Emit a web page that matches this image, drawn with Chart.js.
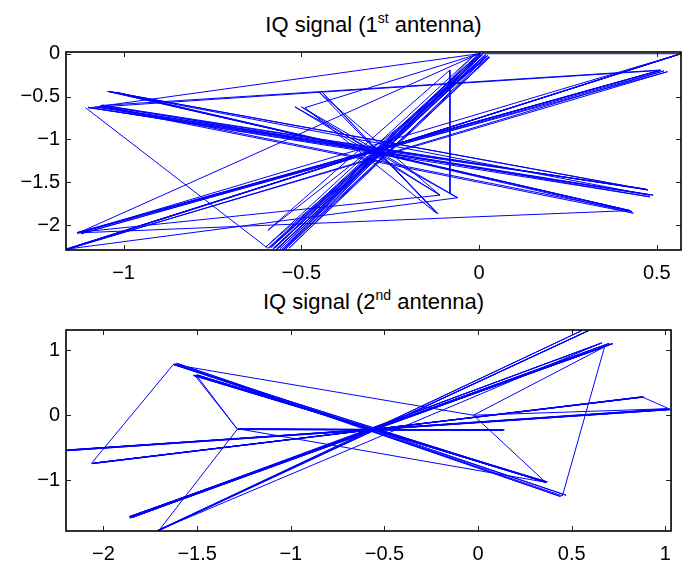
<!DOCTYPE html>
<html>
<head>
<meta charset="utf-8">
<script src="https://cdn.jsdelivr.net/npm/chart.js@4.4.1/dist/chart.umd.min.js"></script>
<style>
  html, body { margin: 0; padding: 0; background: #fff; }
  body { width: 682px; height: 566px; position: relative; overflow: hidden;
         font-family: 'Liberation Sans', Arial, Helvetica, sans-serif; }
  .title { position: absolute; left: 66px; width: 615px; text-align: center;
           font-size: 22px; line-height: 26px; color: #000; white-space: nowrap; }
  .title sup { font-size: 14px; line-height: 0; position: relative; top: -1px; }
  canvas { position: absolute; left: 0; }
</style>
</head>
<body>
<div class="title" style="top:12px">IQ signal (1<sup>st</sup> antenna)</div>
<div class="title" style="top:289px">IQ signal (2<sup>nd</sup> antenna)</div>
<canvas id="iq1" width="682" height="290" style="top:0"></canvas>
<canvas id="iq2" width="682" height="276" style="top:290px"></canvas>

<script>
// ============================================================
// IQ trajectories, two antennas
// ============================================================

// ── Antenna 1: in-phase / quadrature samples ────────────────
const ant1I = [-1.107, -0.594, 0.000, -0.580, 0.020, -0.570, 0.010, -0.565, 0.005, -0.555,
               0.015, -0.585, 0.000, -0.575, 0.010, -0.560, 0.020, -0.590, 0.005, -0.545,
               0.030, -0.535, 0.025, -0.600, -0.010, -0.550, 0.028, -0.594,
               -0.082, -0.082, -0.061, -0.518, -0.110, -0.450, -0.115, -0.440, -0.120, -0.490,
               0.000, 0.568, -1.162, 0.565, -1.155, 0.530, -1.130, 0.510, -1.120, 0.520,
               -1.160, 0.568, -1.130, 0.000, -1.060, 0.473, -1.040, 0.425, -1.020, 0.434,
               -1.070, 0.490, -1.100, 0.480, -1.060, 0.475, -1.035, 0.430, -1.065, 0.510,
               -1.125, 0.425, -1.045, 0.480, -1.080, 0.470, -1.100, -0.450, 0.510, -1.130,
               -0.110, -0.500, -0.060, -1.160, 0.566];
const ant1Q = [-0.630, -2.270, 0.000, -2.275, -0.030, -2.280, -0.010, -2.270, 0.000, -2.285,
               -0.020, -2.260, -0.005, -2.270, -0.005, -2.275, -0.010, -2.265, -0.015, -2.280,
               -0.040, -2.270, -0.020, -2.255, 0.000, -2.285, -0.035, -2.060,
               -0.190, -1.630, -1.680, -0.620, -1.650, -0.450, -1.870, -0.455, -1.860, -0.630,
               0.000, 0.000, -2.280, -0.005, -2.275, -0.210, -2.090, -0.195, -2.100, -0.200,
               -2.285, 0.000, -2.095, 0.000, -0.610, -1.587, -0.440, -1.830, -0.450, -1.860,
               -0.615, -1.650, -0.625, -1.670, -0.600, -1.590, -0.445, -1.840, -0.605, -0.190,
               -2.090, -1.830, -0.440, -1.650, -0.620, -1.580, -0.630, -0.450, -0.195, -2.085,
               -1.650, -0.620, -1.680, -2.280, 0.000];

// ── Antenna 2: in-phase / quadrature samples ────────────────
const ant2I = [-1.627, -2.064, 0.886, -2.050, 0.870, -2.060, 0.880, -2.055, 0.875, 1.026,
               -2.200, 1.020, -2.200, 1.026, -2.190, 1.020, -2.200, 1.010, -0.025, 0.360,
               -1.513, 0.365, -1.500, 0.370, -1.520, 0.355, -1.505, -1.285, 0.133, -1.280,
               0.140, -1.280, 0.130, -1.285, 0.135, -1.275, 0.360, -1.627, 0.470, -1.610,
               0.440, -1.620, 0.450, 0.675, -1.863, 0.720, -1.850, 0.700, -1.855, 0.660,
               -1.845, 0.715, -1.860, 0.658, -1.709, 0.588, -1.700, 0.553, -1.710, 0.590,
               -1.705, -1.285, -1.513, 0.360, -1.627, -0.025, 0.675, -1.860, 0.700];
const ant2Q = [0.780, -0.740, 0.280, -0.735, 0.275, -0.745, 0.285, -0.738, 0.282, 0.090,
               -0.540, 0.095, -0.535, 0.085, -0.545, 0.090, -0.540, 0.100, 0.000, -1.030,
               0.615, -1.035, 0.620, -1.025, 0.610, -1.020, 0.618, -0.215, -0.230, -0.210,
               -0.225, -0.215, -0.235, -0.220, -0.228, -0.212, -1.030, 0.780, -1.230, 0.800,
               -1.250, 0.790, -1.240, 1.050, -1.560, 1.100, -1.575, 1.105, -1.565, 1.110,
               -1.570, 1.100, -1.580, 1.110, -1.770, 1.300, -1.765, 1.300, -1.770, 1.300,
               -1.775, -0.215, 0.615, -1.030, 0.780, 0.000, 1.050, -1.560, 1.100];

// ── Axis ranges and tick labels ──────────────────────────────
const ant1XRange = [-1.162, 0.568];
const ant1YRange = [-2.29, 0.02];
const ant1XTicks = [-1, -0.5, 0, 0.5];
const ant1YTicks = [0, -0.5, -1, -1.5, -2];

const ant2XRange = [-2.2, 1.03];
const ant2YRange = [-1.78, 1.31];
const ant2XTicks = [-2, -1.5, -1, -0.5, 0, 0.5, 1];
const ant2YTicks = [1, 0, -1];

const TICK_FONT = { family: "'Liberation Sans', Arial, Helvetica, sans-serif", size: 20 };

// MATLAB-style minus sign
const fmt = v => (v < 0 ? '\u2212' : '') + Math.abs(v);

// ── Plugin: box + inward tick marks on all four sides ────────
const matlabBox = {
  id: 'matlabBox',
  afterDatasetsDraw(chart) {
    const { ctx, chartArea: a, scales: { x, y } } = chart;
    const len = 5;
    ctx.save();
    ctx.strokeStyle = '#222';
    ctx.lineWidth = 1;
    ctx.beginPath();
    x.ticks.forEach(t => {
      const px = Math.round(x.getPixelForValue(t.value)) + 0.5;
      ctx.moveTo(px, a.bottom); ctx.lineTo(px, a.bottom - len);
      ctx.moveTo(px, a.top);    ctx.lineTo(px, a.top + len);
    });
    y.ticks.forEach(t => {
      const py = Math.round(y.getPixelForValue(t.value)) + 0.5;
      ctx.moveTo(a.left, py);  ctx.lineTo(a.left + len, py);
      ctx.moveTo(a.right, py); ctx.lineTo(a.right - len, py);
    });
    ctx.stroke();
    ctx.strokeStyle = '#000';
    ctx.lineWidth = 1.6;
    ctx.strokeRect(a.left, a.top, a.right - a.left, a.bottom - a.top);
    ctx.restore();
  }
};

function makeIQChart(id, iVals, qVals, xr, yr, xt, yt, pad, xH) {
  const pts = iVals.map((v, k) => ({ x: v, y: qVals[k] }));
  const ctx = document.getElementById(id).getContext('2d');
  return new Chart(ctx, {
    type: 'scatter',
    data: {
      datasets: [{
        data: pts,
        showLine: true,
        borderColor: '#0000ff',
        borderWidth: 1,
        pointRadius: 0,
        tension: 0,
        fill: false
      }]
    },
    options: {
      responsive: false,
      animation: false,
      layout: { padding: pad },
      plugins: { legend: { display: false }, tooltip: { enabled: false } },
      scales: {
        x: {
          type: 'linear', min: xr[0], max: xr[1],
          grid: { display: false, drawTicks: false },
          border: { display: false },
          afterBuildTicks: s => { s.ticks = xt.map(v => ({ value: v })); },
          afterFit: s => { s.height = xH; },
          ticks: { font: TICK_FONT, color: '#000', padding: 11, autoSkip: false, maxRotation: 0,
                   callback: fmt }
        },
        y: {
          type: 'linear', min: yr[0], max: yr[1],
          grid: { display: false, drawTicks: false },
          border: { display: false },
          afterBuildTicks: s => { s.ticks = yt.map(v => ({ value: v })); },
          afterFit: s => { s.width = 66; },
          ticks: { font: TICK_FONT, color: '#000', padding: 6, autoSkip: false,
                   callback: fmt }
        }
      }
    },
    plugins: [matlabBox]
  });
}

makeIQChart('iq1', ant1I, ant1Q, ant1XRange, ant1YRange, ant1XTicks, ant1YTicks,
            { top: 52, right: 1, left: 0, bottom: 0 }, 40);
makeIQChart('iq2', ant2I, ant2Q, ant2XRange, ant2YRange, ant2XTicks, ant2YTicks,
            { top: 40, right: 1, left: 0, bottom: 0 }, 35);
</script>
</body>
</html>
